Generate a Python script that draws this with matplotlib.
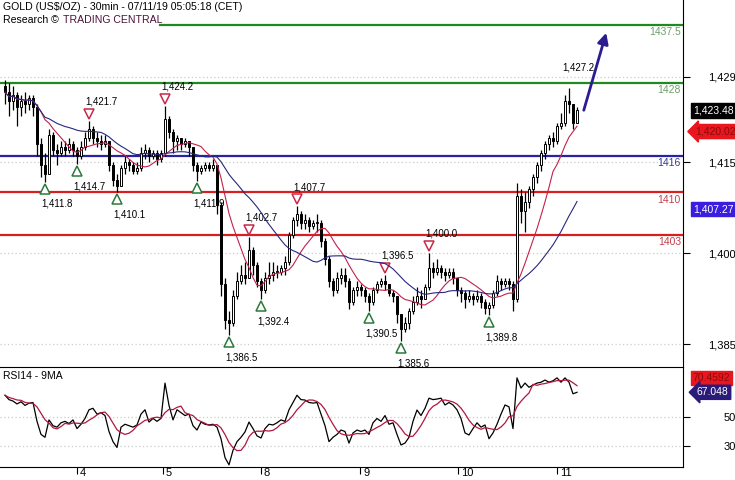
import numpy as np
import pandas as pd
import matplotlib
matplotlib.use('Agg')
import matplotlib.pyplot as plt
import matplotlib.transforms as mtransforms

plt.rcParams['font.family'] = ['Liberation Sans', 'DejaVu Sans']

# Velas (aprox. una por hora)
apertura_inicial = 1427.5
cierre = [
    1426.5, 1425.0, 1426.0, 1424.0, 1425.0, 1424.5, 1425.5, 1424.0,
    1418.0, 1414.5, 1413.0, 1419.5, 1417.0, 1416.5, 1417.5, 1417.0,
    1418.0, 1417.0, 1416.0, 1417.5, 1419.0, 1420.5, 1419.0, 1418.5,
    1418.0, 1418.5, 1414.5, 1412.0, 1411.0, 1414.0, 1415.0, 1414.5,
    1413.5, 1414.0, 1416.5, 1417.0, 1416.0, 1416.5, 1415.5, 1416.5,
    1422.0, 1420.0, 1418.5, 1419.0, 1418.0, 1418.5, 1417.5, 1414.5,
    1413.5, 1414.0, 1414.5, 1414.0, 1414.5, 1408.0, 1395.0, 1389.0,
    1388.5, 1393.0, 1395.5, 1396.5, 1396.0, 1400.5, 1398.0, 1395.5,
    1394.0, 1396.0, 1396.5, 1397.0, 1397.0, 1397.5, 1398.5, 1403.0,
    1405.5, 1406.5, 1405.0, 1405.5, 1404.5, 1405.0, 1405.0, 1402.0,
    1399.0, 1395.5, 1394.0, 1396.0, 1396.5, 1395.5, 1392.0, 1394.0,
    1394.5, 1394.0, 1393.0, 1392.0, 1394.0, 1395.0, 1395.5, 1395.0,
    1393.5, 1393.0, 1390.0, 1387.5, 1388.5, 1390.5, 1392.0, 1393.0,
    1392.5, 1394.5, 1397.5, 1397.0, 1397.5, 1397.0, 1396.5, 1397.0,
    1396.0, 1394.0, 1393.5, 1392.5, 1393.0, 1392.5, 1393.0, 1392.0,
    1391.0, 1391.5, 1393.5, 1395.5, 1395.0, 1395.5, 1395.0, 1392.5,
    1409.5, 1407.0, 1408.5, 1410.5, 1412.5, 1414.5, 1416.5, 1418.0,
    1419.0, 1418.5, 1421.0, 1421.5, 1425.0, 1424.5, 1421.5, 1423.48]
maximo = [
    1428.5, 1428.0, 1427.5, 1426.5, 1426.0, 1426.5, 1426.0, 1426.0,
    1424.5, 1419.0, 1416.5, 1420.5, 1420.0, 1418.0, 1418.5, 1418.5,
    1419.0, 1418.5, 1417.5, 1418.5, 1420.0, 1421.7, 1421.0, 1420.0,
    1419.5, 1419.5, 1418.5, 1415.0, 1413.0, 1414.5, 1416.0, 1415.5,
    1415.0, 1415.0, 1417.5, 1418.0, 1417.5, 1417.0, 1417.0, 1417.0,
    1424.2, 1422.5, 1420.5, 1419.5, 1419.0, 1419.0, 1418.5, 1417.5,
    1415.0, 1414.5, 1415.0, 1415.0, 1415.5, 1414.5, 1408.5, 1396.0,
    1390.5, 1394.0, 1397.0, 1398.0, 1398.5, 1402.7, 1401.0, 1398.5,
    1396.0, 1397.0, 1398.5, 1398.5, 1398.0, 1398.0, 1399.5, 1403.5,
    1406.0, 1407.7, 1407.0, 1406.5, 1406.0, 1405.5, 1406.5, 1405.5,
    1402.5, 1399.5, 1396.0, 1397.0, 1397.5, 1397.5, 1396.0, 1394.5,
    1395.5, 1395.0, 1394.5, 1393.5, 1394.5, 1395.5, 1396.0, 1396.5,
    1395.0, 1394.0, 1393.0, 1390.0, 1389.5, 1391.0, 1393.0, 1394.5,
    1394.0, 1395.0, 1400.0, 1398.5, 1399.0, 1398.0, 1397.5, 1397.5,
    1397.5, 1396.0, 1394.5, 1394.0, 1394.0, 1393.5, 1394.0, 1393.5,
    1392.5, 1392.0, 1394.0, 1396.5, 1396.0, 1396.0, 1396.0, 1395.5,
    1411.5, 1410.5, 1410.0, 1411.0, 1413.0, 1415.0, 1417.0, 1418.5,
    1419.5, 1420.0, 1421.5, 1423.0, 1426.0, 1427.2, 1424.5, 1424.0]
minimo = [
    1424.5, 1422.5, 1423.5, 1421.0, 1422.5, 1423.0, 1423.5, 1422.5,
    1416.0, 1412.5, 1411.8, 1413.0, 1416.0, 1414.5, 1416.0, 1416.0,
    1416.5, 1416.0, 1414.7, 1415.5, 1417.0, 1418.5, 1418.0, 1417.5,
    1417.0, 1417.5, 1413.5, 1411.0, 1410.1, 1411.5, 1413.0, 1413.5,
    1413.0, 1413.0, 1413.5, 1415.5, 1415.0, 1415.5, 1414.5, 1415.0,
    1416.0, 1419.0, 1416.5, 1417.0, 1417.0, 1417.5, 1416.0, 1413.5,
    1411.9, 1413.0, 1413.5, 1413.5, 1413.5, 1406.5, 1393.0, 1387.5,
    1386.5, 1388.0, 1392.5, 1395.0, 1395.0, 1396.0, 1396.5, 1394.5,
    1392.4, 1393.5, 1395.0, 1395.5, 1396.0, 1396.5, 1396.5, 1398.0,
    1402.5, 1404.5, 1404.0, 1404.0, 1403.5, 1404.0, 1403.5, 1401.0,
    1398.0, 1394.5, 1393.0, 1393.5, 1395.0, 1394.5, 1390.8, 1391.5,
    1393.0, 1393.0, 1392.0, 1390.5, 1391.5, 1393.5, 1394.5, 1394.0,
    1393.0, 1392.0, 1388.5, 1385.6, 1387.0, 1387.5, 1390.0, 1391.5,
    1391.0, 1392.5, 1394.0, 1396.0, 1396.5, 1396.0, 1395.5, 1396.0,
    1395.0, 1393.0, 1392.0, 1391.0, 1392.0, 1391.5, 1392.0, 1391.0,
    1390.0, 1389.8, 1391.0, 1393.0, 1394.0, 1394.5, 1394.0, 1390.5,
    1392.0, 1405.0, 1403.5, 1407.5, 1409.5, 1411.5, 1413.5, 1415.5,
    1417.0, 1417.5, 1418.0, 1420.5, 1421.0, 1423.0, 1420.5, 1421.5]

rsi = [
    65, 62, 61, 59, 60.5, 58, 59.5, 60,
    47, 38, 36, 48, 44, 43, 46, 47,
    45.5, 48, 42, 45, 49, 55, 56, 52,
    53, 51, 40, 33, 29, 43, 45, 44,
    43, 44.5, 52, 55, 46.5, 49, 47, 49,
    73.4, 58, 48, 55, 53, 51, 52, 44,
    41, 46.5, 45, 44.5, 45, 43, 35, 22,
    17, 27, 33, 36, 39.7, 46.5, 42, 37,
    35.5, 42, 45, 44.5, 46, 48, 47, 55,
    60, 65, 62, 61.7, 60, 59.6, 60, 52,
    44, 33, 36, 38, 41, 40, 32, 39,
    41, 40, 41, 38, 46, 49, 47, 51,
    45, 46, 38, 30.7, 32, 36, 47, 54.8,
    51, 56, 63, 62, 62.4, 63, 58.3, 60,
    58.3, 55, 49, 39, 37.6, 42, 46, 43,
    44.5, 35, 39, 45, 52, 58.3, 57, 42,
    77, 70, 73.4, 70.5, 72, 73.4, 74, 75.5,
    74, 75, 77, 74, 77, 74, 66, 67.048]

# Niveles de soporte / resistencia
niveles = [1437.5, 1428, 1416, 1410, 1403]
col_niveles = ['#1f8a1f', '#1f8a1f', '#2a22a0', '#d81e1e', '#d81e1e']
col_etiquetas = ['#6e9e6e', '#6e9e6e', '#3a3a9a', '#c0404e', '#c0404e']

# Maximos y minimos marcados (indice de vela, precio)
maximos_idx = [21, 40, 61, 73, 95, 106]
maximos_val = [1421.7, 1424.2, 1402.7, 1407.7, 1396.5, 1400.0]
minimos_idx = [10, 18, 28, 48, 56, 64, 91, 99, 121]
minimos_val = [1411.8, 1414.7, 1410.1, 1411.9, 1386.5, 1392.4, 1390.5, 1385.6, 1389.8]
ultimo_max_idx = 141
ultimo_max_val = 1427.2

dias = ['4', '5', '8', '9', '10', '11']
pos_dias = [18, 39.5, 64, 88.75, 113.25, 138]

ticks_precio = [1385, 1400, 1415, 1429]
ticks_rsi = [30, 50]

ultimo_precio = 1423.48
media_rapida_ult = 1420.02
media_lenta_ult = 1407.27
rsi_ma_ult = 70.4592
rsi_ult = 67.048
objetivo = 1437.5


def fmt(v, dec=1):
    return f'{v:,.{dec}f}'


cierre_a = np.array(cierre)
apertura = np.array([apertura_inicial] + cierre[:-1])
x = np.arange(len(cierre))
media_rapida = pd.Series(cierre_a).rolling(10, min_periods=1).mean()
media_lenta = pd.Series(cierre_a).rolling(25, min_periods=1).mean()
rsi_ma = pd.Series(rsi).rolling(5, min_periods=1).mean()

fig = plt.figure(figsize=(7.35, 4.8), dpi=100)
W, H = 735, 480
ax = fig.add_axes([0, 1 - 367 / H, 683 / W, 367 / H])
ax2 = fig.add_axes([0, 13 / H, 683 / W, 100 / H], sharex=ax)

# Lineas de nivel
for i, (lvl, c, ce) in enumerate(zip(niveles, col_niveles, col_etiquetas)):
    xmin = 160 / 683 if i == 0 else 0
    ax.axhline(lvl, xmin=xmin, color=c, lw=1.6, zorder=2)
    ax.annotate(f'{lvl:g}', xy=(1, lvl), xycoords=('axes fraction', 'data'),
                xytext=(-1.5, -1.5), textcoords='offset points', ha='right', va='top',
                color=ce, fontsize=7.5)

# Velas
sube = cierre_a >= apertura
cuerpo = np.where(np.abs(cierre_a - apertura) < 0.15, 0.15, cierre_a - apertura)
ax.vlines(x, minimo, maximo, color='black', lw=0.9, zorder=4)
ax.bar(x[sube], cuerpo[sube], bottom=apertura[sube], width=0.7, color='white',
       edgecolor='black', lw=0.7, zorder=5)
ax.bar(x[~sube], cuerpo[~sube], bottom=apertura[~sube], width=0.7, color='black',
       edgecolor='black', lw=0.7, zorder=5)

# Medias moviles
ax.plot(x, media_rapida, color='#c4204c', lw=0.8, zorder=6)
ax.plot(x, media_lenta, color='#27277f', lw=0.8, zorder=6)

# Marcas de maximos y minimos
sube_px = mtransforms.ScaledTranslation(0, 7 / 100, fig.dpi_scale_trans)
baja_px = mtransforms.ScaledTranslation(0, -7 / 100, fig.dpi_scale_trans)
for xi, v in zip(maximos_idx, maximos_val):
    ax.plot(xi, v, marker='v', ms=7, mfc='white', mec='#c8284a', mew=1.1, zorder=3,
            transform=ax.transData + sube_px)
    ax.annotate(fmt(v), xy=(xi, v), xytext=(-3, 14), textcoords='offset points',
                ha='left', va='center', fontsize=7, zorder=3)
for xi, v in zip(minimos_idx, minimos_val):
    ax.plot(xi, v, marker='^', ms=7, mfc='white', mec='#2a7a3a', mew=1.1, zorder=3,
            transform=ax.transData + baja_px)
    ax.annotate(fmt(v), xy=(xi, v), xytext=(-3, -16), textcoords='offset points',
                ha='left', va='center', fontsize=7, zorder=3)
ax.annotate(fmt(ultimo_max_val), xy=(ultimo_max_idx, ultimo_max_val),
            xytext=(-4.5, 15), textcoords='offset points', ha='left', va='center', fontsize=7)

# Flecha de objetivo
n = len(cierre)
ax.annotate('', xy=(n + 6.5, objetivo - 0.8), xytext=(n + 0.5, ultimo_precio - 0.4),
            arrowprops=dict(arrowstyle='-|>', color='#2b1d8f', lw=2, mutation_scale=16),
            zorder=7)

# Ejes principales
ax.set_xlim(-1.25, 169.5)
ax.set_ylim(1381.3, 1441.65)
ax.yaxis.tick_right()
ax.set_yticks(ticks_precio, [fmt(t, 0) for t in ticks_precio])
ax.tick_params(axis='y', length=5, pad=33, labelsize=8, direction='out')
for lab in ax.get_yticklabels():
    lab.set_ha('right')
ax.tick_params(axis='x', bottom=False, labelbottom=False)
ax.yaxis.grid(True, ls=(0, (1, 2)), color='#cccccc', lw=0.9)
for s in ['top', 'left', 'bottom']:
    ax.spines[s].set_visible(False)

# Etiquetas de valores actuales
ax.annotate(fmt(ultimo_precio, 2), xy=(1, ultimo_precio), xycoords=('axes fraction', 'data'),
            xytext=(7, 0), textcoords='offset points', ha='left', va='center', fontsize=7.5,
            color='white', bbox=dict(boxstyle='square,pad=0.2', fc='black', ec='black'),
            annotation_clip=False)
ax.annotate(fmt(media_rapida_ult, 2), xy=(1, media_rapida_ult), xycoords=('axes fraction', 'data'),
            xytext=(9, 0), textcoords='offset points', ha='left', va='center', fontsize=7.5,
            color='#8a0a0a', bbox=dict(boxstyle='larrow,pad=0.2', fc='#e8161e', ec='#e8161e'),
            annotation_clip=False)
ax.annotate(fmt(media_lenta_ult, 2), xy=(1, media_lenta_ult), xycoords=('axes fraction', 'data'),
            xytext=(7, 0), textcoords='offset points', ha='left', va='center', fontsize=7.5,
            color='white', bbox=dict(boxstyle='square,pad=0.2', fc='#3b1de0', ec='#3b1de0'),
            annotation_clip=False)

# Titulo
fig.text(3 / W, 1 - 2 / H, 'GOLD (US$/OZ) - 30min - 07/11/19 05:05:18 (CET)', fontsize=7.6,
         va='top', ha='left')
fig.text(3 / W, 1 - 15 / H, 'Research \u00a9', fontsize=7.6, va='top', ha='left')
fig.text(63 / W, 1 - 15 / H, 'TRADING CENTRAL', fontsize=7.6, va='top', ha='left', color='#4a1238')

# Panel RSI
ax2.plot(x, rsi, color='black', lw=0.9)
ax2.plot(x, rsi_ma, color='#b0173f', lw=0.9)
ax2.set_ylim(15.5, 84.5)
ax2.yaxis.tick_right()
ax2.set_yticks(ticks_rsi, [str(t) for t in ticks_rsi])
ax2.tick_params(axis='y', length=5, pad=33, labelsize=8)
for lab in ax2.get_yticklabels():
    lab.set_ha('right')
ax2.yaxis.grid(True, ls=(0, (1, 2)), color='#cccccc', lw=0.9)
ax2.spines['left'].set_visible(False)
ax2.text(0.005, 0.96, 'RSI14 - 9MA', transform=ax2.transAxes, fontsize=7.5, va='top')
ax2.annotate(fmt(rsi_ma_ult, 4), xy=(1, rsi_ma_ult), xycoords=('axes fraction', 'data'),
             xytext=(7, 7), textcoords='offset points', ha='left', va='center', fontsize=7.5,
             color='#8a0a0a', bbox=dict(boxstyle='square,pad=0.2', fc='#e8161e', ec='#e8161e'),
             annotation_clip=False)
ax2.annotate(fmt(rsi_ult, 3), xy=(1, rsi_ult), xycoords=('axes fraction', 'data'),
             xytext=(10, 0), textcoords='offset points', ha='left', va='center', fontsize=7.5,
             color='white', bbox=dict(boxstyle='larrow,pad=0.2', fc='#2a1a7a', ec='#2a1a7a'),
             annotation_clip=False)

ax2.set_xticks(pos_dias, dias)
ax2.tick_params(axis='x', length=5, pad=-4, labelsize=8)
desplaza = mtransforms.ScaledTranslation(3 / 100, 0, fig.dpi_scale_trans)
for lab in ax2.get_xticklabels():
    lab.set_ha('left')
    lab.set_transform(lab.get_transform() + desplaza)

fig.savefig('out.png', dpi=100)
